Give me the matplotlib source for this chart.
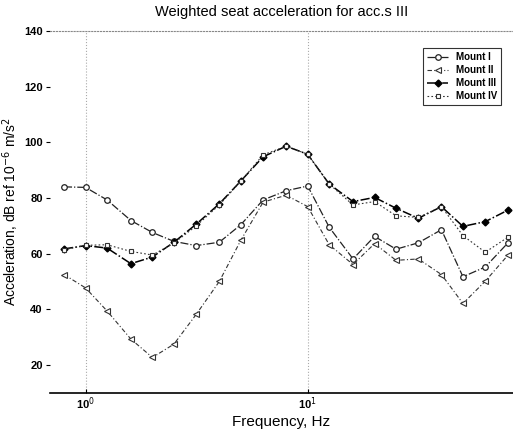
import matplotlib.pyplot as plt
from matplotlib.ticker import FixedLocator, NullLocator

# 1/3 octave band centre frequencies (Hz)
freq = [0.8, 1, 1.25, 1.6, 2, 2.5, 3.15, 4, 5, 6.3, 8, 10,
        12.5, 16, 20, 25, 31.5, 40, 50, 63, 80]

# Weighted seat acceleration, dB ref 1e-6 m/s^2
mount_1 = [84, 83.8, 79.3, 71.9, 67.6, 64.4, 62.9, 64.1, 70.4, 79.3, 82.6, 84.3,
           69.5, 58.1, 66.2, 61.6, 63.9, 68.6, 51.7, 55.2, 64]
mount_2 = [52.5, 47.7, 39.4, 29.3, 22.7, 27.5, 38.2, 50, 64.8, 78.5, 81, 76.9,
           63.2, 56.1, 63.6, 57.6, 58.1, 52.5, 42.1, 50.1, 59.6]
mount_3 = [61.7, 62.9, 62, 56.4, 58.8, 64.1, 70.6, 77.9, 86.1, 94.8, 98.6, 95.7,
           85, 78.7, 80.2, 76.3, 72.7, 76.9, 69.8, 71.5, 75.7]
mount_4 = [61.4, 63, 63.2, 60.8, 59.5, 63.8, 70, 77.5, 86, 95.5, 98.6, 95.7,
           85, 77.5, 78.7, 73.6, 73, 76.9, 66.5, 60.5, 66]

plt.rcParams['font.family'] = ['Liberation Sans', 'DejaVu Sans']

fig = plt.figure(figsize=(5.13, 4.36), dpi=100)
ax = fig.add_axes([0.097, 0.099, 0.903, 0.83])

ax.plot(freq, mount_1, label='Mount I', color='#222222', linewidth=0.9,
        linestyle='-.', marker='o', markersize=4, markerfacecolor='white',
        markeredgewidth=0.9)
ax.plot(freq, mount_2, label='Mount II', color='#333333', linewidth=0.8,
        linestyle=(0, (4, 2, 1, 2)), marker='<', markersize=4,
        markerfacecolor='white', markeredgewidth=0.8)
ax.plot(freq, mount_3, label='Mount III', color='black', linewidth=1.1,
        linestyle=(0, (6, 1.5, 1, 1.5)), marker='D', markersize=3.5)
ax.plot(freq, mount_4, label='Mount IV', color='#333333', linewidth=0.8,
        linestyle=(0, (1.5, 2)), marker='s', markersize=3.5,
        markerfacecolor='white', markeredgewidth=0.8)

ax.set_xscale('log')
ax.set_xlim(0.69, 84)
ax.set_ylim(10, 140)

ax.xaxis.set_major_locator(FixedLocator([1, 10]))
ax.xaxis.set_minor_locator(NullLocator())
ax.set_xticklabels(['10$^0$', '10$^1$'], fontsize=8, fontweight='bold')
ax.set_yticks([20, 40, 60, 80, 100, 120, 140])
ax.set_yticklabels(['20', '40', '60', '80', '100', '120', '140'],
                   fontsize=8, fontweight='bold')
ax.tick_params(axis='y', length=3, width=0.8, pad=2)
ax.tick_params(axis='x', length=3, width=0.8, direction='in', pad=2)

for side in ['left', 'right']:
    ax.spines[side].set_visible(False)
ax.spines['top'].set_linestyle(':')
ax.spines['top'].set_color('#888888')
ax.spines['bottom'].set_linewidth(1.2)

ax.grid(True, axis='x', which='major', linestyle=':', color='#aaaaaa',
        linewidth=0.8)

ax.set_title('Weighted seat acceleration for acc.s III', fontsize=10.5,
             pad=11)
ax.set_xlabel('Frequency, Hz', fontsize=11, labelpad=2)
ax.set_ylabel('Acceleration, dB ref 10$^{-6}$ m/s$^2$', fontsize=10,
              labelpad=2)

leg = ax.legend(loc='upper right', bbox_to_anchor=(0.985, 0.965),
                prop={'size': 7, 'weight': 'bold'}, frameon=True,
                fancybox=False, edgecolor='black', handlelength=2.2,
                borderpad=0.4, labelspacing=0.3)
leg.get_frame().set_linewidth(0.8)

plt.savefig('out.png', dpi=100)
